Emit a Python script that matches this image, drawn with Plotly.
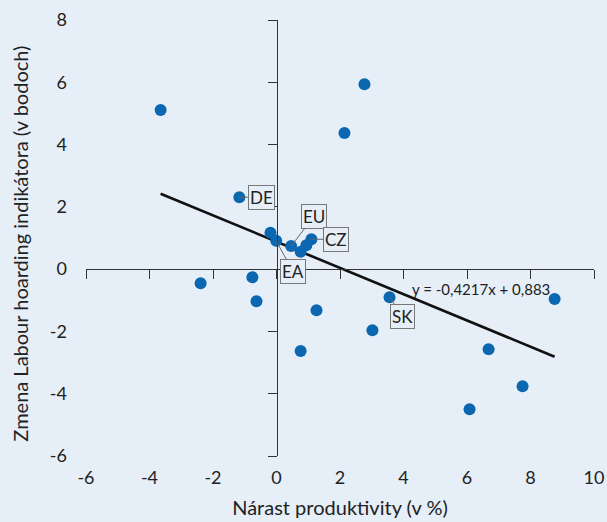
import plotly.graph_objects as go

# ---- data ----
prod_growth = [-3.65, 2.77, 2.14, -1.17, -2.39, -0.76, -0.63, -0.19, -0.01, 0.46,
               0.76, 0.94, 1.10, 1.26, 0.76, 3.02, 3.56, 6.68, 7.75, 6.08, 8.76]
lh_change = [5.11, 5.94, 4.37, 2.31, -0.45, -0.26, -1.03, 1.17, 0.91, 0.74,
             0.56, 0.77, 0.96, -1.32, -2.63, -1.96, -0.90, -2.57, -3.76, -4.50, -0.96]
point_labels = ["", "", "", "DE", "", "", "", "", "EA", "EU",
                "", "", "CZ", "", "", "", "SK", "", "", "", ""]
slope = -0.4217
intercept = 0.883
equation_text = "y = -0,4217x + 0,883"
x_ticks = [-6, -4, -2, 0, 2, 4, 6, 8, 10]
y_ticks = [-6, -4, -2, 0, 2, 4, 6, 8]
x_title = "Nárast produktivity (v %)"
y_title = "Zmena Labour hoarding indikátora (v bodoch)"

# ---- style ----
BG = "#E6EEF8"
BLUE = "#0A67B0"
TXT = "#222222"
FONT = "Lato"
label_offsets = {"DE": (22, 0), "EU": (23, -30), "CZ": (25, 0), "EA": (17, 31), "SK": (13, 19)}

xmin, xmax = min(prod_growth), max(prod_growth)
fig = go.Figure()
fig.add_trace(go.Scatter(
    x=[xmin, xmax], y=[slope * xmin + intercept, slope * xmax + intercept],
    mode="lines", line=dict(color="#111111", width=2.6), hoverinfo="skip", showlegend=False))
fig.add_trace(go.Scatter(
    x=prod_growth, y=lh_change, mode="markers",
    marker=dict(color=BLUE, size=12), showlegend=False))
# invisible trace to hold the zero-crossing axes
fig.add_trace(go.Scatter(x=[0], y=[0], xaxis="x2", yaxis="y2", mode="markers",
                         marker=dict(opacity=0), hoverinfo="skip", showlegend=False))

for xv, yv, lab in zip(prod_growth, lh_change, point_labels):
    if lab:
        ax, ay = label_offsets[lab]
        fig.add_annotation(x=xv, y=yv, text=lab, showarrow=True, arrowhead=0,
                           arrowwidth=1, arrowcolor="#666666", ax=ax, ay=ay,
                           bordercolor="#777777", borderwidth=1, borderpad=1,
                           bgcolor=BG, font=dict(family=FONT, size=17, color=TXT))

fig.add_annotation(x=6.43, y=-0.64, text=equation_text, showarrow=False,
                   font=dict(family=FONT, size=15, color=TXT))

# y-axis title as a rotated annotation
fig.add_annotation(xref="paper", yref="paper", x=-0.13, y=0.487, text=y_title,
                   textangle=-90, showarrow=False, xanchor="center", yanchor="middle",
                   font=dict(family=FONT, size=20, color=TXT))

x0_pos = (0 - y_ticks[0]) / (y_ticks[-1] - y_ticks[0])
y0_pos = (0 - x_ticks[0]) / (x_ticks[-1] - x_ticks[0])

fig.update_layout(
    width=607, height=522,
    margin=dict(l=86, r=13, t=20, b=66),
    paper_bgcolor=BG, plot_bgcolor=BG,
    font=dict(family=FONT, size=18, color=TXT),
    xaxis=dict(range=[x_ticks[0], x_ticks[-1]], tickvals=x_ticks,
               ticktext=[str(v) for v in x_ticks], showgrid=False, automargin=False,
               zeroline=False, showline=False, ticks="", ticklabelstandoff=9,
               tickfont=dict(size=18),
               title=dict(text=x_title, standoff=13, font=dict(size=20))),
    yaxis=dict(range=[y_ticks[0], y_ticks[-1]], tickvals=y_ticks,
               ticktext=[str(v) for v in y_ticks], showgrid=False, automargin=False,
               zeroline=False, showline=False, ticks="", ticklabelstandoff=18,
               tickfont=dict(size=18)),
    xaxis2=dict(range=[x_ticks[0], x_ticks[-1]], tickvals=x_ticks, overlaying="x",
                anchor="free", position=x0_pos, side="bottom", showline=True,
                linecolor="#333333", linewidth=1, ticks="outside", ticklen=9,
                tickcolor="#333333", showticklabels=False, showgrid=False, zeroline=False),
    yaxis2=dict(range=[y_ticks[0], y_ticks[-1]], tickvals=y_ticks, overlaying="y",
                anchor="free", position=y0_pos, side="left", showline=True,
                linecolor="#333333", linewidth=1, ticks="outside", ticklen=9,
                tickcolor="#333333", showticklabels=False, showgrid=False, zeroline=False),
)

fig.write_html("out.html",
               config={"displayModeBar": False},
               post_script="document.body.style.margin='0';"
                           "document.body.style.background='" + BG + "';")
